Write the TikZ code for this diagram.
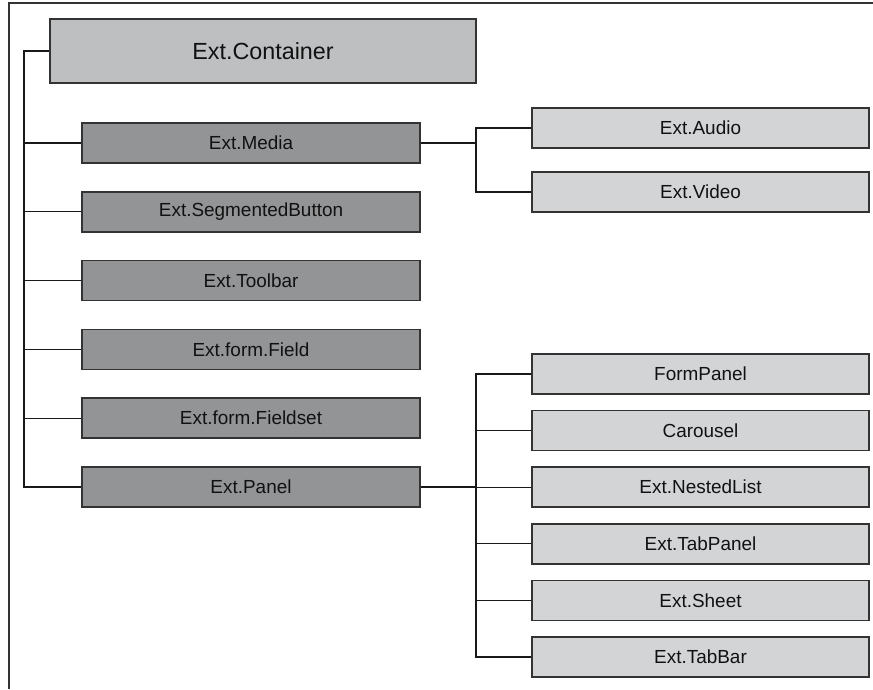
\documentclass[tikz,border=0pt]{standalone}
\usepackage{fontspec}
\setmainfont{Liberation Sans}
\usetikzlibrary{positioning}
\definecolor{topc}{HTML}{BEBFC1}
\definecolor{midc}{HTML}{939496}
\definecolor{leafc}{HTML}{D3D4D6}
\definecolor{edgec}{HTML}{333333}
\definecolor{txtc}{HTML}{111111}
\tikzset{
  box/.style={draw=edgec,line width=1.1pt,text=txtc,inner sep=0pt,font=\fontsize{14.2}{16}\selectfont},
  topbox/.style={box,fill=topc,minimum width=426*0.75pt,minimum height=64*0.75pt,font=\fontsize{17.5}{20}\selectfont},
  midbox/.style={box,fill=midc,minimum width=338*0.75pt,minimum height=40*0.75pt},
  leafbox/.style={box,fill=leafc,minimum width=337*0.75pt,minimum height=40*0.75pt},
  ln/.style={draw=black!90,line width=1pt}
}

\begin{document}
\begin{tikzpicture}[x=0.75pt,y=-0.75pt]
\useasboundingbox (0,0) rectangle (873,689);
% frame
\draw[black!80,line width=0.8pt] (9,689) -- (9,3) -- (873,3);
% root
\node[topbox] (ctr) at (263,51) {Ext.Container};
% second level
\node[midbox] (med) at (251,143) {Ext.Media};
\node[midbox] (seg) at (251,211.8) {Ext.SegmentedButton};
\node[midbox] (tool) at (251,280.6) {Ext.Toolbar};
\node[midbox] (fld) at (251,349.4) {Ext.form.Field};
\node[midbox] (fset) at (251,418.2) {Ext.form.Fieldset};
\node[midbox] (pan) at (251,487) {Ext.Panel};
% media children
\node[leafbox] (aud) at (700.5,128) {Ext.Audio};
\node[leafbox] (vid) at (700.5,192) {Ext.Video};
% panel children
\node[leafbox] (fpan) at (700.5,374) {FormPanel};
\node[leafbox] (car) at (700.5,430.6) {Carousel};
\node[leafbox] (nest) at (700.5,487.2) {Ext.NestedList};
\node[leafbox] (tpan) at (700.5,543.8) {Ext.TabPanel};
\node[leafbox] (sht) at (700.5,600.4) {Ext.Sheet};
\node[leafbox] (tbar) at (700.5,657) {Ext.TabBar};
% connectors
\coordinate (tk) at (24,51);
\draw[ln] (ctr.west) -- (tk) |- (pan.west);
\foreach \n in {med,seg,tool,fld,fset}
  \draw[ln] (tk |- \n.west) -- (\n.west);
\coordinate (mj) at (476,143);
\draw[ln] (med.east) -- (mj);
\draw[ln] (aud.west) -- (mj |- aud.west) -- (mj |- vid.west) -- (vid.west);
\coordinate (pj) at (476,487);
\draw[ln] (pan.east) -- (pj);
\draw[ln] (fpan.west) -- (pj |- fpan.west) -- (pj |- tbar.west) -- (tbar.west);
\foreach \n in {car,nest,tpan,sht}
  \draw[ln] (pj |- \n.west) -- (\n.west);
\end{tikzpicture}
\end{document}
